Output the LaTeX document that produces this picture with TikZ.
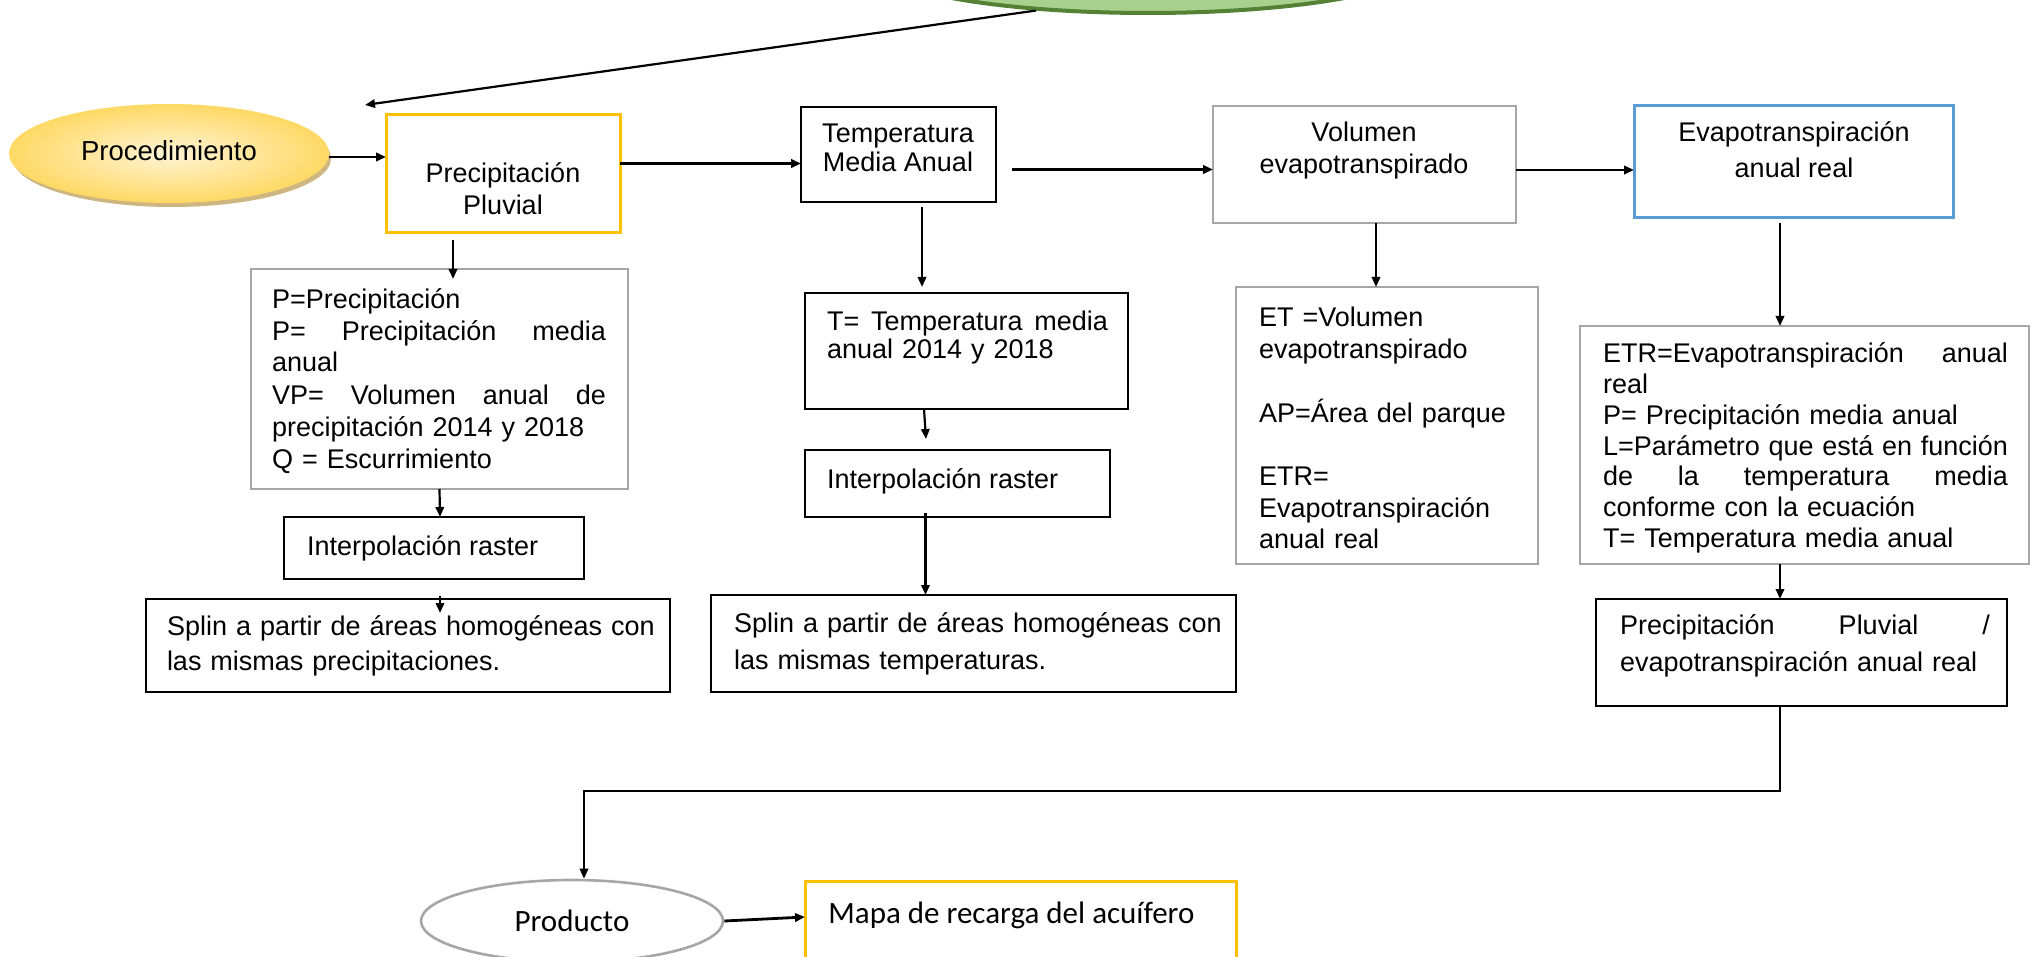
\documentclass[tikz,border=0pt]{standalone}
\usepackage{fontspec}
\setmainfont{Liberation Sans}
\newfontfamily\calib{Carlito}
\usetikzlibrary{shapes.geometric,arrows.meta,fit}
\setlength{\parindent}{0pt}
\definecolor{boxgray}{HTML}{A6A6A6}
\definecolor{boxyellow}{HTML}{FFC000}
\definecolor{boxblue}{HTML}{5B9BD5}
\definecolor{greenfill}{HTML}{A9D18E}
\definecolor{greendraw}{HTML}{548235}
\definecolor{procin}{HTML}{FFF4D6}
\definecolor{procout}{HTML}{FFD966}
\definecolor{procshadow}{HTML}{CDB680}
\newcommand\fst{\rule{0pt}{13pt}}
\newcommand\jl[2]{\leavevmode\hbox to #1{#2}}
\begin{document}
\begin{tikzpicture}[x=0.5pt,y=-0.5pt,
  gbox/.style={draw=boxgray,line width=1.35pt,inner sep=0pt,outer sep=0pt},
  kbox/.style={draw=black,line width=1.2pt,inner sep=0pt,outer sep=0pt},
  ybox/.style={draw=boxyellow,line width=1.5pt,inner sep=0pt,outer sep=0pt},
  bbox/.style={draw=boxblue,line width=1.5pt,inner sep=0pt,outer sep=0pt},
  arr/.style={line width=1.1pt,-{Triangle[length=5pt,width=4.2pt]}},
  arrh/.style={arr,line width=1.4pt},
  txt/.style={inner sep=0pt,outer sep=0pt,align=left,anchor=north west,font=\fontsize{13.5pt}{#1}\selectfont},
  one/.style={inner sep=0pt,outer sep=0pt,anchor=base west,font=\fontsize{13.5pt}{16pt}\selectfont}]
\useasboundingbox (0,0) rectangle (2040,957);
\fill[white] (0,0) rectangle (2040,957);
\begin{scope}
\clip (0,0) rectangle (2040,957);
% green ellipse (cut at top)
\node[ellipse,minimum width=275pt,minimum height=50pt,inner sep=0pt,fill=greenfill,draw=greendraw,line width=2pt] (green) at (1148,-37) {};
% Procedimiento
\node[ellipse,minimum width=159pt,minimum height=48.5pt,inner sep=0pt,fill=procshadow] (procsh) at (172,158.5) {};
\node[ellipse,minimum width=159pt,minimum height=48.5pt,inner sep=0pt,inner color=procin,outer color=procout,draw=procout,line width=1pt,font=\fontsize{13.75pt}{16pt}\selectfont] (proc) at (169,153.5) {\raisebox{2.5pt}{Procedimiento}};
% boxes
\node[ybox,fit={(386,115) (620,233)}] (pp) {};
\node[kbox,fit={(801,107) (996,202)}] (tma) {};
\node[gbox,fit={(1213,106) (1516,223)}] (vol) {};
\node[bbox,fit={(1634,106) (1953,218)}] (eva) {};
\node[gbox,fit={(251,269) (628,489)}] (pbox) {};
\node[kbox,fit={(284,517) (584,579)}] (int1) {};
\node[kbox,fit={(146,599) (670,692)}] (spl1) {};
\node[kbox,fit={(805,293) (1128,409)}] (tbox) {};
\node[kbox,fit={(805,450) (1110,517)}] (int2) {};
\node[kbox,fit={(711,595) (1236,692)}] (spl2) {};
\node[gbox,fit={(1236,287) (1538,564)}] (etbox) {};
\node[gbox,fit={(1580,326) (2029,564)}] (etrbox) {};
\node[kbox,fit={(1596,599) (2007,706)}] (pe) {};
\node[ellipse,minimum width=151pt,minimum height=41pt,inner sep=0pt,draw=boxgray,line width=1.3pt,fill=white,font=\calib\fontsize{15.5pt}{18pt}\selectfont] (prod) at (572,921) {Producto};
\node[ybox,fit={(805,881) (1236,1000)}] (mapa) {};
\end{scope}
% texts
\node[txt=16pt,align=center,anchor=north] (ppt) at (503,157) {\fst Precipitación\\Pluvial};
\node[txt=14.5pt,align=center,anchor=north] (tmat) at (898,117) {\fst Temperatura\\Media Anual};
\node[txt=16pt,align=center,anchor=north] (volt) at (1364,116) {\fst Volumen\\evapotranspirado};
\node[txt=18pt,align=center,anchor=north] (evat) at (1794,116) {\fst Evapotranspiración\\anual real};
\node[txt=16pt,text width=167pt] (pboxt) at (272,282) {\fst P=Precipitación\\
\jl{167pt}{P=\hfill Precipitación\hfill media}\\
anual\\
\jl{167pt}{VP=\hfill Volumen\hfill anual\hfill de}\\
precipitación 2014 y 2018\\
Q = Escurrimiento};
\node[one] (int1t) at (307,555) {Interpolación raster};
\node[txt=17.5pt,text width=255pt] (spl1t) at (167,609) {\fst Splin a partir de áreas homogéneas con\\las mismas precipitaciones.};
\node[txt=14pt,text width=140.5pt] (tboxt) at (827,304) {\fst\jl{140.5pt}{T=\hfill Temperatura\hfill media}\\anual 2014 y 2018};
\node[one] (int2t) at (827,488) {Interpolación raster};
\node[txt=18.75pt,text width=255pt] (spl2t) at (734,606) {\fst Splin a partir de áreas homogéneas con\\las mismas temperaturas.};
\node[txt=15.85pt,text width=140pt] (etboxt) at (1259,301) {\fst ET =Volumen\\evapotranspirado\\\mbox{}\\AP=Área del parque\\\mbox{}\\ETR=\\Evapotranspiración\\anual real};
\node[txt=15.35pt,text width=202.5pt] (etrt) at (1603,337) {\fst\jl{202.5pt}{ETR=Evapotranspiración\hfill anual}\\
real\\
P= Precipitación media anual\\
\jl{202.5pt}{L=Parámetro\hfill que\hfill está\hfill en\hfill función}\\
\jl{202.5pt}{de\hfill la\hfill temperatura\hfill media}\\
conforme con la ecuación\\
T= Temperatura media anual};
\node[txt=18.5pt,text width=185pt] (pet) at (1620,608) {\fst\jl{185pt}{Precipitación\hfill Pluvial\hfill /}\\evapotranspiración anual real};
\node[inner sep=0pt,anchor=base west,font=\calib\fontsize{15.5pt}{18pt}\selectfont] (mapat) at (828,923) {Mapa de recarga del acuífero};
% connectors
\coordinate (gtip) at (365,105);
\draw[arr] (green.203) -- (gtip);
\draw[arrh] ([yshift=-1.75pt]proc.east) -- ([yshift=8.5pt]pp.west);
\draw[arrh] ([yshift=5.25pt]pp.east) -- ([yshift=-4.5pt]tma.west);
\draw[arrh] ([xshift=8pt,yshift=-7.5pt]tma.east) -- ([yshift=-2.5pt]vol.west);
\draw[arrh] ([yshift=-2.75pt]vol.east) -- ([yshift=-4pt]eva.west);
\draw[arr] ([xshift=-25pt,yshift=-3.5pt]pp.south) -- ([xshift=6.75pt,yshift=-5pt]pbox.north);
\draw[arr] (pbox.south) -- ([xshift=3pt]int1.north);
\draw[arr] ([xshift=3pt,yshift=-8.5pt]int1.south) -- ([xshift=16pt,yshift=-7pt]spl1.north);
\draw[arr] ([xshift=11.75pt,yshift=-2.5pt]tma.south) -- ([xshift=-22.25pt,yshift=3pt]tbox.north);
\draw[arr] ([xshift=-21.25pt]tbox.south) -- ([xshift=-15.75pt,yshift=5.5pt]int2.north);
\draw[arr] ([xshift=-16pt,yshift=2pt]int2.south) -- ([xshift=-24pt]spl2.north);
\draw[arr] ([xshift=5.75pt]vol.south) -- ([xshift=-5.5pt]etbox.north);
\draw[arr] ([xshift=-6.75pt,yshift=-2.5pt]eva.south) -- ([xshift=-12.25pt]etrbox.north);
\draw[arr] ([xshift=-12.25pt]etrbox.south) -- ([xshift=-10.75pt]pe.north);
\draw[arr] ([xshift=-10.75pt]pe.south) -- ++(0,85) -| ([xshift=6pt]prod.north);
\draw[arrh] (prod.east) -- ([yshift=11.75pt]mapa.west);
\end{tikzpicture}
\end{document}
